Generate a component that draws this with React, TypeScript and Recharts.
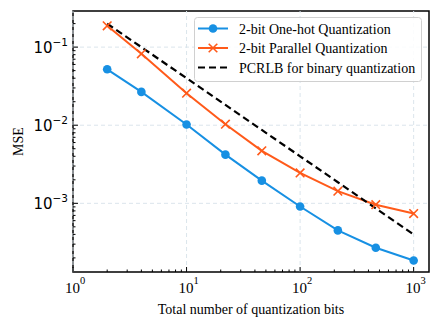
import { Line, LineChart, ReferenceArea, ReferenceLine, XAxis, YAxis } from "recharts"

const bits = [2, 4, 10, 22, 46, 100, 215, 464, 1000]
const oneHot = [0.052, 0.0267, 0.0102, 0.0042, 0.00195, 0.00091, 0.00045, 0.00027, 0.000185]
const parallel = [0.1875, 0.082, 0.0257, 0.0103, 0.0047, 0.00245, 0.00143, 0.00096, 0.00074]
const pcrlb = [0.2, 0.1, 0.04, 0.0182, 0.0087, 0.004, 0.00186, 0.00086, 0.0004]

const xMajor = [1, 10, 100, 1000]
const xMinor = [2, 3, 4, 5, 6, 7, 8, 9, 20, 30, 40, 50, 60, 70, 80, 90, 200, 300, 400, 500, 600, 700, 800, 900]
const yMajor = [0.001, 0.01, 0.1]
const yMinor = [
  0.0002, 0.0003, 0.0004, 0.0005, 0.0006, 0.0007, 0.0008, 0.0009,
  0.002, 0.003, 0.004, 0.005, 0.006, 0.007, 0.008, 0.009,
  0.02, 0.03, 0.04, 0.05, 0.06, 0.07, 0.08, 0.09, 0.2,
]

const legendLabels = ["2-bit One-hot Quantization", "2-bit Parallel Quantization", "PCRLB for binary quantization"]

const X_DOMAIN: [number, number] = [1, 1365]
const Y_DOMAIN: [number, number] = [0.000132, 0.29]

const BLUE = "#1790E3"
const ORANGE = "#FF5A1A"
const GRID = "#dbe5ec"
const SERIF = "'Liberation Serif', 'Times New Roman', serif"
const SANS = "'DejaVu Sans', sans-serif"

const data = bits.map((b, i) => ({
  bits: b,
  oneHot: oneHot[i],
  parallel: parallel[i],
  pcrlb: pcrlb[i],
}))

const isMajor = (v: number, list: number[]) => list.some((m) => Math.abs(m - v) / m < 1e-6)

function XTick(props: any) {
  const { x, y, payload } = props
  const v = payload.value as number
  const major = isMajor(v, xMajor)
  const exp = Math.round(Math.log10(v))
  return (
    <g>
      <line x1={x} x2={x} y1={y} y2={y - (major ? 5 : 2.5)} stroke="#000" strokeWidth={1} />
      {major && (
        <text x={x + 2} y={y + 20.5} textAnchor="middle" fontFamily={SERIF} fontSize={15} fill="#000">
          10
          <tspan dy={-9} fontSize={10.5}>
            {exp}
          </tspan>
        </text>
      )}
    </g>
  )
}

function YTick(props: any) {
  const { x, y, payload } = props
  const v = payload.value as number
  const major = isMajor(v, yMajor)
  const exp = Math.round(Math.log10(v))
  return (
    <g>
      <line x1={x} x2={x + (major ? 5 : 2.5)} y1={y} y2={y} stroke="#000" strokeWidth={1} />
      {major && (
        <text x={x - 5} y={y + 6} textAnchor="end" fontFamily={SANS} fontSize={15} fill="#000">
          10
          <tspan dy={-7.3} fontSize={10.5}>
            {"\u2212" + Math.abs(exp)}
          </tspan>
        </text>
      )}
    </g>
  )
}

function CrossDot(props: any) {
  const { cx, cy } = props
  if (cx == null || cy == null) return null
  const s = 4.3
  return (
    <g>
      <line x1={cx - s} y1={cy - s} x2={cx + s} y2={cy + s} stroke={ORANGE} strokeWidth={1.6} />
      <line x1={cx - s} y1={cy + s} x2={cx + s} y2={cy - s} stroke={ORANGE} strokeWidth={1.6} />
    </g>
  )
}

function LegendBox() {
  return (
    <svg width={228} height={65} style={{ position: "absolute", left: 194, top: 17 }}>
      <rect x={0.5} y={0.5} width={227} height={64} rx={3} fill="rgba(255,255,255,0.85)" stroke="#d0d0d0" />
      {legendLabels.map((label, i) => {
        const cy = 11.5 + i * 19.5
        return (
          <g key={label}>
            {i === 0 && (
              <>
                <line x1={4} x2={34} y1={cy} y2={cy} stroke={BLUE} strokeWidth={2} />
                <circle cx={19} cy={cy} r={4.3} fill={BLUE} />
              </>
            )}
            {i === 1 && (
              <>
                <line x1={4} x2={34} y1={cy} y2={cy} stroke={ORANGE} strokeWidth={2} />
                <CrossDot cx={19} cy={cy} />
              </>
            )}
            {i === 2 && (
              <line x1={4} x2={34} y1={cy} y2={cy} stroke="#000" strokeWidth={2.2} strokeDasharray="7 4" />
            )}
            <text x={45} y={cy + 5} fontFamily={SERIF} fontSize={14} fill="#000">
              {label}
            </text>
          </g>
        )
      })}
    </svg>
  )
}

export default function App() {
  return (
    <div style={{ position: "absolute", left: 0, top: 0, width: 440, height: 326, background: "#fff" }}>
      <LineChart width={440} height={326} data={data} margin={{ top: 11, right: 11, left: 0, bottom: 0 }}>
        <XAxis
          dataKey="bits"
          type="number"
          scale="log"
          domain={X_DOMAIN}
          allowDataOverflow
          ticks={[...xMajor, ...xMinor]}
          tick={<XTick />}
          tickSize={0}
          tickMargin={0}
          tickLine={false}
          axisLine={false}
          height={54}
          interval={0}
          label={{
            value: "Total number of quantization bits",
            position: "insideBottom",
            offset: 12,
            style: { fontFamily: SERIF, fontSize: 14, fill: "#000" },
          }}
        />
        <YAxis
          type="number"
          scale="log"
          domain={Y_DOMAIN}
          allowDataOverflow
          ticks={[...yMajor, ...yMinor]}
          tick={<YTick />}
          tickSize={0}
          tickMargin={0}
          tickLine={false}
          axisLine={false}
          width={73}
          interval={0}
          label={{
            value: "MSE",
            angle: -90,
            position: "insideLeft",
            offset: 18,
            style: { fontFamily: SERIF, fontSize: 14, fill: "#000", textAnchor: "middle" },
          }}
        />
        {xMajor.map((v) => (
          <ReferenceLine key={"gx" + v} x={v} stroke={GRID} strokeDasharray="4 3" strokeWidth={1} />
        ))}
        {yMajor.map((v) => (
          <ReferenceLine key={"gy" + v} y={v} stroke={GRID} strokeDasharray="4 3" strokeWidth={1} />
        ))}
        <Line
          dataKey="oneHot"
          stroke={BLUE}
          strokeWidth={2}
          dot={{ r: 4.3, fill: BLUE, stroke: BLUE, strokeWidth: 0 }}
          isAnimationActive={false}
        />
        <Line
          dataKey="parallel"
          stroke={ORANGE}
          strokeWidth={2}
          dot={<CrossDot />}
          isAnimationActive={false}
        />
        <Line
          dataKey="pcrlb"
          stroke="#000"
          strokeWidth={2.2}
          strokeDasharray="7 4"
          dot={false}
          isAnimationActive={false}
        />
        <ReferenceArea
          x1={X_DOMAIN[0]}
          x2={X_DOMAIN[1]}
          y1={Y_DOMAIN[0]}
          y2={Y_DOMAIN[1]}
          fill="none"
          stroke="#000"
          strokeWidth={1.5}
          ifOverflow="visible"
        />
      </LineChart>
      <LegendBox />
    </div>
  )
}
